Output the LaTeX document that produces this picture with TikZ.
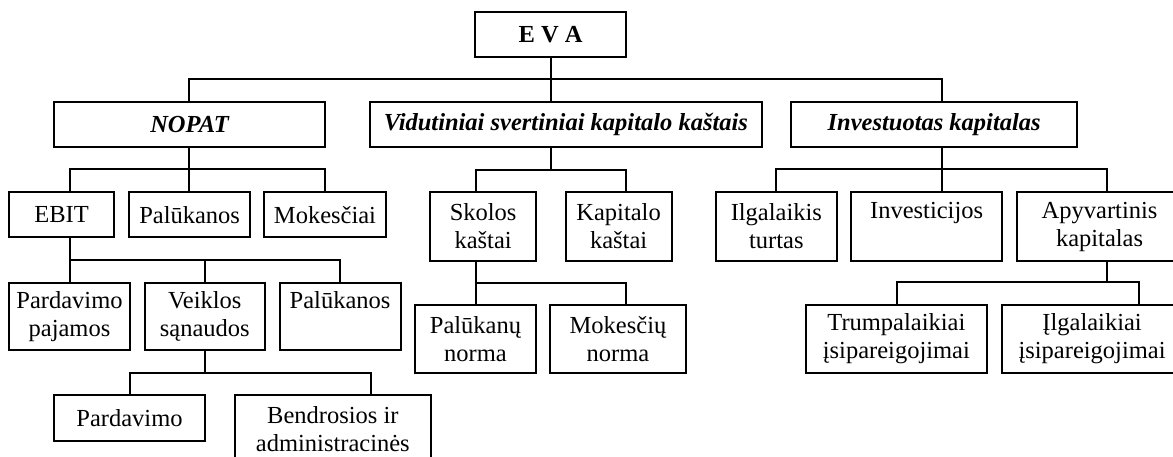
\documentclass[tikz,border=0pt]{standalone}
\usepackage{fontspec}
\setmainfont{Liberation Serif}
\newcommand\fs{\fontsize{24.5}{28}\selectfont}
\newcommand\bx[6]{\node[box, minimum width={#3-#2}, minimum height={#5-#4}] (#1) at ({(#2+#3)/2},{(#4+#5)/2}) {#6};}
\begin{document}
\begin{tikzpicture}[x=1pt,y=-1pt,
  box/.style={draw, line width=2pt, inner sep=0pt, align=center, font=\fs},
  link/.style={line width=2pt}]
\useasboundingbox (0,0) rectangle (1173,457);
\clip (0,0) rectangle (1173,457);
% level 0
\bx{eva}{475.3}{626}{11.7}{57.3}{\bfseries E V A}
% level 1
\bx{nopat}{54}{325}{102.5}{147}{\bfseries\itshape NOPAT}
\bx{vid}{370}{761.7}{102.5}{147}{\bfseries\itshape Vidutiniai svertiniai kapitalo kaštais}
\bx{inv}{791}{1077.3}{102.5}{147}{\bfseries\itshape Investuotas kapitalas}
% level 2
\bx{ebit}{9}{114}{192.5}{237.3}{EBIT}
\bx{pal}{129.3}{250}{192.5}{237.3}{Palūkanos}
\bx{mok}{264.3}{385.7}{192.5}{237.3}{Mokesčiai}
\bx{sk}{430.3}{536}{192.5}{260.7}{Skolos\\kaštai}
\bx{kk}{565.7}{671.5}{192.5}{260.7}{Kapitalo\\kaštai}
\bx{ilg}{716}{836.7}{192.5}{260.7}{Ilgalaikis\\turtas}
\bx{ivc}{851.3}{1002}{192.5}{260.7}{Investicijos\\\vphantom{p}}
\bx{apy}{1016.7}{1182.4}{192.5}{260.7}{Apyvartinis\\kapitalas}
% level 3
\bx{pp}{9}{130}{282.5}{350}{Pardavimo\\pajamos}
\bx{vs}{144.5}{265}{282.5}{350}{Veiklos\\sąnaudos}
\bx{pal2}{279.5}{400.7}{282.5}{350}{Palūkanos\\\vphantom{p}}
\bx{pn}{415}{536}{305}{372.7}{Palūkanų\\norma}
\bx{mn}{550}{686}{305}{372.7}{Mokesčių\\norma}
\bx{tr}{806}{986.7}{305}{372.7}{Trumpalaikiai\\įsipareigojimai}
\bx{il}{1001.7}{1182.4}{305}{372.7}{Įlgalaikiai\\įsipareigojimai}
% level 4
\bx{prd}{54.3}{204.7}{395}{440.7}{Pardavimo}
\bx{bnd}{235}{430.7}{395}{463}{Bendrosios ir\\administracinės}
% stem x positions and bus y positions
\coordinate (x0) at (550.7,0);
\coordinate (x1) at (189.3,0);
\coordinate (x2) at (941.7,0);
\coordinate (x3) at (70,0);
\coordinate (x4) at (325,0);
\coordinate (x5) at (475.6,0);
\coordinate (x6) at (626,0);
\coordinate (x7) at (776,0);
\coordinate (x8) at (1107.4,0);
\coordinate (x9) at (204.5,0);
\coordinate (x10) at (340,0);
\coordinate (x11) at (896.7,0);
\coordinate (x12) at (1139,0);
\coordinate (x13) at (129.5,0);
\coordinate (x14) at (370.7,0);
\coordinate (b0) at (0,79.3);
\coordinate (b1) at (0,169.5);
\coordinate (b2) at (0,170);
\coordinate (b3) at (0,169.5);
\coordinate (b4) at (0,260);
\coordinate (b5) at (0,282.5);
\coordinate (b6) at (0,282.3);
\coordinate (b7) at (0,372.7);
% EVA
\draw[link] (eva.south -| x0) -- (vid.north -| x0);
\draw[link] (nopat.north -| x1) |- (b0 -| x2) -- (inv.north -| x2);
% NOPAT
\draw[link] (nopat.south -| x1) -- (pal.north -| x1);
\draw[link] (ebit.north -| x3) |- (b1 -| x4) -- (mok.north -| x4);
% Vidutiniai
\draw[link] (vid.south -| x0) -- (b2 -| x0);
\draw[link] (sk.north -| x5) |- (b2 -| x6) -- (kk.north -| x6);
% Investuotas
\draw[link] (inv.south -| x2) -- (ivc.north -| x2);
\draw[link] (ilg.north -| x7) |- (b3 -| x8) -- (apy.north -| x8);
% EBIT
\draw[link] (ebit.south -| x3) -- (pp.north -| x3);
\draw[link] (vs.north -| x9) -- (b4 -| x9);
\draw[link] (b4 -| x3) -- (b4 -| x10) -- (pal2.north -| x10);
% Skolos
\draw[link] (sk.south -| x5) -- (pn.north -| x5);
\draw[link] (b5 -| x5) -- (b5 -| x6) -- (mn.north -| x6);
% Apyvartinis
\draw[link] (apy.south -| x8) -- (b6 -| x8);
\draw[link] (tr.north -| x11) |- (b6 -| x12) -- (il.north -| x12);
% Veiklos
\draw[link] (vs.south -| x9) -- (b7 -| x9);
\draw[link] (prd.north -| x13) |- (b7 -| x14) -- (bnd.north -| x14);
\end{tikzpicture}
\end{document}
